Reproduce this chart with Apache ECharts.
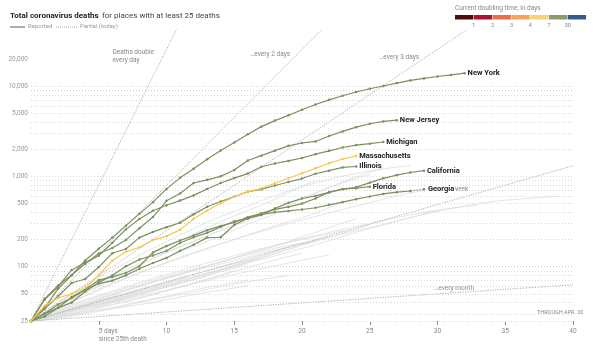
<!DOCTYPE html>
<html>
<head>
<meta charset="utf-8">
<script src="https://cdn.jsdelivr.net/npm/echarts@6/dist/echarts.min.js"></script>
<style>
  html, body { margin: 0; padding: 0; background: #fff; }
  #chart { width: 600px; height: 347px; }
</style>
</head>
<body>
<div id="chart"></div>
<script>
// Cumulative deaths, indexed by days since the 25th death
const newYork = [25, 35, 57, 80, 117, 158, 210, 285, 385, 519, 728, 965, 1218, 1550, 1941, 2373, 2935, 3565, 4159, 4758, 5489, 6268, 7067, 7844, 8627, 9385, 10056, 10834, 11586, 12192, 12822, 13362, 13950];
const newJersey = [25, 44, 62, 81, 108, 140, 161, 198, 267, 355, 537, 646, 846, 917, 1003, 1180, 1504, 1700, 1932, 2183, 2350, 2443, 2805, 3156, 3518, 3840, 4070, 4202];
const michigan = [25, 43, 60, 92, 111, 132, 184, 259, 337, 417, 479, 540, 617, 727, 845, 959, 1076, 1281, 1392, 1487, 1602, 1768, 1921, 2093, 2227, 2308, 2410];
const massachusetts = [25, 37, 45, 50, 58, 81, 116, 146, 164, 197, 218, 256, 340, 420, 505, 597, 680, 738, 840, 955, 1085, 1230, 1400, 1560, 1690];
const illinois = [25, 34, 47, 66, 73, 99, 141, 157, 210, 243, 274, 307, 380, 462, 528, 596, 677, 720, 794, 868, 948, 1072, 1160, 1259, 1290];
const california = [25, 28, 35, 40, 53, 67, 80, 101, 120, 133, 150, 183, 212, 237, 276, 319, 343, 374, 442, 510, 570, 609, 665, 723, 758, 854, 953, 1036, 1106, 1160];
const florida = [25, 30, 35, 46, 56, 71, 77, 85, 101, 144, 170, 195, 221, 254, 283, 309, 354, 390, 432, 460, 500, 570, 670, 725, 740, 770];
const georgia = [25, 30, 38, 45, 55, 65, 70, 80, 95, 110, 125, 150, 175, 210, 212, 290, 345, 380, 400, 415, 430, 450, 485, 520, 560, 600, 640, 670, 690, 720];

// Other places, drawn in the background
const otherPlaces = [
  [25, 28, 31, 35, 38, 42, 46, 50, 55, 60, 66, 72, 78, 85, 92, 100, 110, 120, 132, 145, 160, 175, 195, 215, 240, 265, 290, 320, 350, 380, 410, 440, 470, 500, 525, 545, 560, 575, 590, 600],
  [25, 29, 33, 38, 43, 48, 54, 60, 67, 74, 82, 90, 100, 110, 120, 132, 145, 158, 172, 188, 205, 222, 240, 260, 280, 300, 325, 350, 375, 400, 425, 445, 465, 480],
  [25, 32, 40, 50, 62, 76, 92, 110, 135, 160, 190, 225, 265, 310, 360, 410, 470, 540, 610, 690, 770, 850, 930, 1010, 1080, 1150, 1210, 1270, 1320],
  [25, 30, 36, 44, 52, 62, 74, 88, 104, 122, 142, 165, 190, 220, 255, 295, 340, 390, 445, 510, 580, 660, 760, 870, 990, 1120, 1250],
  [25, 31, 38, 46, 55, 66, 78, 92, 108, 126, 146, 168, 192, 220, 250, 285, 325, 370, 420, 480, 560, 650, 750, 850, 950, 1050],
  [25, 28, 32, 36, 40, 45, 50, 56, 62, 68, 75, 82, 90, 98, 107, 117, 128, 140, 152, 165, 180, 195, 212, 230, 250, 270, 295, 320, 350, 385, 420],
  [25, 27, 30, 34, 38, 43, 48, 54, 60, 67, 74, 82, 91, 101, 112, 125, 140, 155, 172, 190, 215, 240, 270, 305, 340],
  [25, 27, 29, 32, 35, 38, 42, 46, 51, 56, 62, 68, 75, 83, 92, 102, 113, 125, 140, 155, 172, 190, 210, 235, 260, 290],
  [25, 28, 31, 35, 39, 44, 49, 55, 61, 68, 75, 83, 92, 102, 113, 125, 138, 152, 168, 185, 200, 215, 232, 250],
  [25, 26, 28, 30, 33, 36, 40, 44, 49, 54, 60, 66, 73, 81, 90, 100, 112, 125, 140, 157, 175, 195, 215],
  [25, 29, 33, 37, 42, 47, 52, 58, 64, 71, 78, 86, 94, 103, 113, 124, 135, 147, 160, 172, 182, 190],
  [25, 27, 30, 33, 36, 40, 44, 48, 53, 58, 64, 70, 77, 85, 94, 104, 116, 130, 147, 165],
  [25, 26, 28, 30, 32, 35, 38, 41, 45, 49, 54, 59, 65, 72, 80, 89, 98, 108, 118, 129, 140],
  [25, 28, 31, 34, 38, 42, 46, 51, 56, 62, 68, 75, 82, 90, 99, 108, 117, 125],
  [25, 27, 29, 32, 35, 38, 41, 45, 49, 54, 59, 65, 72, 80, 88, 96, 105],
  [25, 26, 28, 30, 32, 35, 38, 41, 45, 49, 54, 60, 66, 73, 81, 90],
  [25, 27, 30, 33, 36, 39, 42, 46, 50, 55, 60, 66, 72, 78],
  [25, 28, 31, 34, 37, 41, 45, 49, 53, 58, 63, 68],
  [25, 27, 30, 33, 36, 39, 43, 47, 51, 55],
  [25, 28, 30, 33, 36, 38, 41, 44],
  [25, 30, 35, 41, 48, 56, 65, 75, 86, 98, 112, 127, 143, 160, 180, 200, 222, 246, 272, 300, 330, 360, 395, 430, 470, 510, 560, 610, 655, 700],
  [25, 29, 34, 40, 47, 55, 64, 74, 85, 97, 110, 124, 140, 158, 178, 200, 225, 252, 282, 315, 350, 390, 450, 520],
  [25, 31, 38, 47, 57, 69, 83, 99, 118, 140, 165, 195, 230, 270, 315, 365, 420, 480, 560, 660, 780, 900],
  [25, 30, 36, 43, 51, 60, 70, 82, 95, 110, 127, 146, 167, 190, 220, 255, 295, 340, 380],
  [25, 26, 27, 29, 31, 33, 35, 37, 40, 43, 46, 49, 52, 56, 60, 64, 68, 72, 76, 80],
  [25, 26, 28, 29, 31, 33, 35, 38, 41, 44, 47, 51, 55, 59, 63, 67, 71],
  [25, 27, 29, 31, 34, 37, 40, 43, 47, 51, 55, 60, 65, 70, 76, 82, 88, 95, 102, 110, 118, 126, 135],
  [25, 26, 27, 28, 30, 32, 34, 36, 38, 40, 43, 46, 49, 52, 55, 58, 62]
];

// Reference lines: days for deaths to double
const doublingTimes = [1, 2, 3, 7, 30];

// Axis ticks
const xTickValues = [5, 10, 15, 20, 25, 30, 35, 40];
const xTickLabels = ['5 days\nsince 25th death', '10', '15', '20', '25', '30', '35', '40'];
const yLabelValues = [25, 50, 100, 200, 500, 1000, 2000, 5000, 10000, 20000];
const yGridValues = [25, 30, 40, 50, 60, 70, 80, 90, 100, 200, 300, 400, 500, 600, 700, 800, 900,
  1000, 2000, 3000, 4000, 5000, 6000, 7000, 8000, 9000, 10000];

// Doubling-time colour key
const keyColors = ['#4e0b10', '#a8152f', '#ea6e48', '#f2a562', '#f6d374', '#8a9a6b', '#345d8a'];
const keyLabels = ['1', '2', '3', '4', '7', '30'];

const GREEN = '#7d905f';
const YELLOW = '#f5c94e';
const FONT = 'Roboto, "Noto Sans", sans-serif';

const toPoints = arr => arr.map((v, i) => [i, v]);

const series = [];

// background places
otherPlaces.forEach((arr, k) => {
  series.push({
    type: 'line', name: 'other' + k, data: toPoints(arr), z: 1,
    showSymbol: false, silent: true,
    lineStyle: { color: '#dedede', width: 0.8 }
  });
});

// gridlines and y labels
const gridItems = yGridValues.map(v => ({
  yAxis: v,
  label: { show: yLabelValues.includes(v) }
}));
yLabelValues.filter(v => !yGridValues.includes(v)).forEach(v => {
  gridItems.push({
    yAxis: v,
    lineStyle: { color: 'rgba(255,255,255,0)' },
    label: { show: true }
  });
});
series.push({
  type: 'line', name: 'grid', data: [], z: 0, silent: true,
  markLine: {
    silent: true, symbol: 'none', animation: false,
    lineStyle: { color: '#d8d8d8', type: [1, 2], width: 1 },
    label: {
      position: 'start', distance: 3, color: '#999', fontSize: 6.5, fontFamily: FONT,
      formatter: p => p.value.toLocaleString('en-US')
    },
    data: gridItems
  }
});

// doubling reference lines
doublingTimes.forEach(t => {
  const end = 40;
  series.push({
    type: 'line', name: 'double' + t, z: 2, silent: true, showSymbol: false,
    clip: true,
    data: [[0, 25], [end, 25 * Math.pow(2, end / t)]],
    lineStyle: { color: '#999', width: 0.8, type: [1.2, 1.3] }
  });
});

// highlighted places
const highlighted = [
  ['New York', newYork, GREEN],
  ['New Jersey', newJersey, GREEN],
  ['Michigan', michigan, GREEN],
  ['Illinois', illinois, GREEN],
  ['California', california, GREEN],
  ['Florida', florida, GREEN],
  ['Massachusetts', massachusetts, YELLOW]
];
const endLabelStyle = {
  show: true, formatter: '{a}', fontSize: 7.5, fontWeight: 'bold',
  color: '#222', fontFamily: FONT, distance: 3
};
highlighted.forEach(([name, arr, color]) => {
  series.push({
    type: 'line', name, data: toPoints(arr), z: color === YELLOW ? 6 : 5,
    symbol: 'circle', symbolSize: 2.5, showSymbol: true,
    itemStyle: { color },
    lineStyle: { color, width: 1.2 },
    endLabel: endLabelStyle
  });
});
// Georgia: reported days solid, today's partial count dotted
const gaReported = georgia.slice(0, georgia.length - 1);
series.push({
  type: 'line', name: 'Georgia', data: toPoints(gaReported), z: 5,
  symbol: 'circle', symbolSize: 2.5,
  itemStyle: { color: GREEN }, lineStyle: { color: GREEN, width: 1.2 }
});
series.push({
  type: 'line', name: 'Georgia',
  data: toPoints(georgia).slice(georgia.length - 2), z: 5,
  symbol: 'circle', symbolSize: 2.5,
  itemStyle: { color: GREEN }, lineStyle: { color: GREEN, width: 1.2, type: [1.5, 1.5] },
  endLabel: Object.assign({}, endLabelStyle, { backgroundColor: '#fff', padding: [0, 1, 0, 1] })
});

// text graphics: title, legends and notes
const graphic = [
  { type: 'text', left: 10, top: 9.5, style: {
      text: '{b|Total coronavirus deaths} {n|for places with at least 25 deaths}',
      rich: {
        b: { fontSize: 8, fontWeight: 'bold', fill: '#222', fontFamily: FONT },
        n: { fontSize: 8, fill: '#444', fontFamily: FONT }
      } } },
  { type: 'line', shape: { x1: 10, y1: 27, x2: 25, y2: 27 }, style: { stroke: '#999', lineWidth: 1.6 } },
  { type: 'text', left: 28, top: 23.5, style: { text: 'Reported', fontSize: 6, fill: '#999', fontFamily: FONT } },
  { type: 'line', shape: { x1: 56, y1: 27, x2: 77, y2: 27 }, style: { stroke: '#aaa', lineWidth: 1, lineDash: [1, 1] } },
  { type: 'text', left: 80, top: 23.5, style: { text: 'Partial (today)', fontSize: 6, fill: '#999', fontFamily: FONT } },
  { type: 'text', left: 455, top: 5, style: { text: 'Current doubling time, in days', fontSize: 6.5, fill: '#888', fontFamily: FONT } },
  { type: 'text', right: 446, top: 48, style: { text: 'Deaths double\nevery day', fontSize: 6.5, fill: '#888', align: 'right', lineHeight: 8, fontFamily: FONT } },
  { type: 'text', left: 250, top: 51, style: { text: '…every 2 days', fontSize: 6.5, fill: '#888', fontFamily: FONT } },
  { type: 'text', left: 379, top: 54, style: { text: '…every 3 days', fontSize: 6.5, fill: '#888', fontFamily: FONT } },
  { type: 'text', left: 432, top: 186, style: { text: '…every week', fontSize: 6.5, fill: '#888', fontFamily: FONT } },
  { type: 'text', left: 434, top: 284.5, style: { text: '…every month', fontSize: 6.5, fill: '#888', fontFamily: FONT } },
  { type: 'text', left: 537, top: 310, style: { text: 'THROUGH APR. 20', fontSize: 5.5, fill: '#888', fontFamily: FONT } }
];
keyColors.forEach((c, i) => {
  graphic.push({ type: 'rect', shape: { x: 455 + i * 18.8, y: 15, width: 18.3, height: 4.5 }, style: { fill: c } });
});
keyLabels.forEach((t, i) => {
  graphic.push({ type: 'text', x: 455 + (i + 1) * 18.8, y: 22.5, style: { text: t, fontSize: 6, fill: '#888', align: 'center', fontFamily: FONT } });
});

const chart = echarts.init(document.getElementById('chart'), null, { renderer: 'canvas' });
chart.setOption({
  animation: false,
  backgroundColor: '#fff',
  grid: { left: 31, right: 27, top: 30, bottom: 26, containLabel: false },
  xAxis: {
    type: 'value', min: 0, max: 40,
    axisLine: { show: false },
    splitLine: { show: false },
    axisTick: { show: true, customValues: xTickValues, length: 4, lineStyle: { color: '#888' } },
    axisLabel: {
      customValues: xTickValues,
      hideOverlap: false,
      alignMinLabel: 'left',
      color: '#888', fontSize: 6.5, fontFamily: FONT, margin: 6, lineHeight: 8,
      formatter: v => xTickLabels[xTickValues.indexOf(v)]
    }
  },
  yAxis: {
    type: 'log', logBase: 10, min: 25, max: 42000,
    axisLine: { show: false }, axisTick: { show: false },
    axisLabel: { show: false }, splitLine: { show: false }
  },
  series,
  graphic
});
</script>
</body>
</html>
